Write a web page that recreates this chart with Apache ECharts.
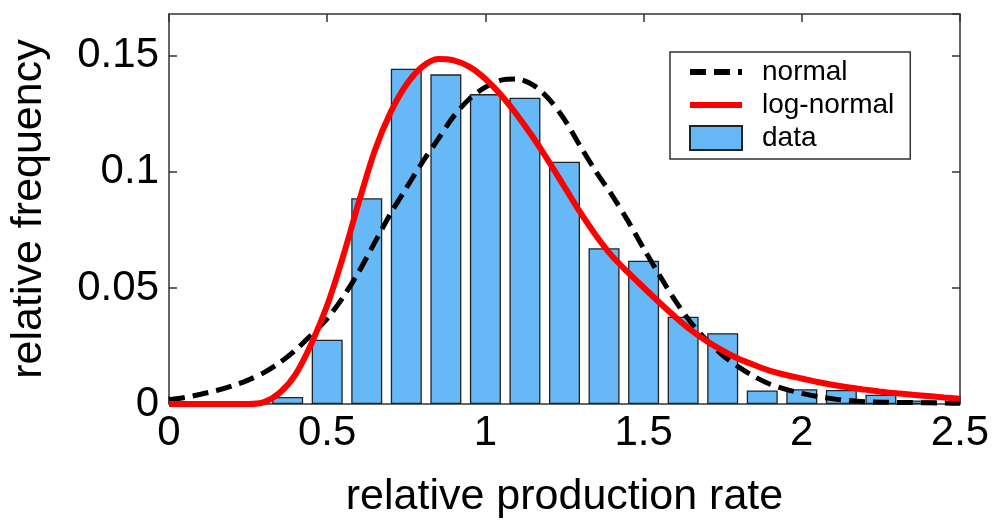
<!DOCTYPE html>
<html>
<head>
<meta charset="utf-8">
<script src="https://cdn.jsdelivr.net/npm/echarts@6/dist/echarts.min.js"></script>
<style>
    html, body { margin: 0; padding: 0; background: #fff; }
    #chart { width: 998px; height: 524px; }
</style>
</head>
<body>
<div id="chart"></div>
<script>
// histogram bins (centre of bin) and their relative frequency
var binCenters = [0.375, 0.5, 0.625, 0.75, 0.875, 1.0, 1.125, 1.25, 1.375, 1.5,
    1.625, 1.75, 1.875, 2.0, 2.125, 2.25, 2.375];
var binFreq = [0.003, 0.0277, 0.0886, 0.1444, 0.142, 0.1335, 0.1319, 0.1044, 0.0671, 0.0617,
    0.0376, 0.0305, 0.0058, 0.0064, 0.006, 0.004, 0.0015];

// fitted curves
var curveX = [0, 0.05, 0.1, 0.15, 0.2, 0.25, 0.3, 0.35, 0.4, 0.45,
    0.5, 0.55, 0.6, 0.65, 0.7, 0.75, 0.8, 0.85, 0.9, 0.95,
    1.0, 1.05, 1.1, 1.15, 1.2, 1.25, 1.3, 1.35, 1.4, 1.45,
    1.5, 1.55, 1.6, 1.65, 1.7, 1.75, 1.8, 1.85, 1.9, 1.95,
    2.0, 2.05, 2.1, 2.15, 2.2, 2.25, 2.3, 2.35, 2.4, 2.45, 2.5];
var normalY = [0.0018, 0.0028, 0.0042, 0.0058, 0.0078, 0.0103, 0.0135, 0.0178, 0.0232, 0.0298,
    0.0368, 0.046, 0.057, 0.0695, 0.082, 0.093, 0.104, 0.114, 0.124, 0.1315,
    0.1365, 0.1395, 0.14, 0.1375, 0.1315, 0.1225, 0.111, 0.1, 0.09, 0.079,
    0.067, 0.0555, 0.0445, 0.035, 0.0274, 0.021, 0.016, 0.0118, 0.0085, 0.0063,
    0.0046, 0.0032, 0.0022, 0.0015, 0.001, 0.0008, 0.0007, 0.0006, 0.0005, 0.0004, 0.0003];
var logNormalY = [0, 0, 0, 0, 0, 0, 0.0008, 0.0048, 0.0128, 0.026,
    0.0425, 0.0635, 0.087, 0.109, 0.1255, 0.1375, 0.1452, 0.1486, 0.148, 0.1452,
    0.14, 0.133, 0.1245, 0.115, 0.1045, 0.0935, 0.0825, 0.0725, 0.0638, 0.0568,
    0.0502, 0.0437, 0.0375, 0.0318, 0.027, 0.023, 0.0195, 0.0168, 0.0143, 0.0125,
    0.011, 0.0095, 0.0082, 0.0071, 0.0062, 0.0053, 0.0046, 0.004, 0.0034, 0.0028, 0.0023];

var xTicks = ['0', '0.5', '1', '1.5', '2', '2.5'];

function pairs(xs, ys){
    var out = [];
    for(var i = 0; i < xs.length; i++){
        out.push([xs[i], ys[i]]);
    }
    return out;
}

var font = '"Liberation Sans", Arial, sans-serif';
var frame = '#333';
var dash = [16, 8];

function frameAxis(extra){
    var ax = {
        type: 'value',
        splitLine: { show: false },
        axisLine: { show: true, onZero: false, lineStyle: { color: frame, width: 1.5 } },
        axisTick: { show: true, inside: true, length: 8, lineStyle: { color: frame, width: 1.5 } },
        axisLabel: { show: false }
    };
    for(var k in extra){
        ax[k] = extra[k];
    }
    return ax;
}

var myChart = echarts.init(document.getElementById('chart'));
var option = {
    animation: false,
    backgroundColor: '#fff',
    textStyle: { fontFamily: font },
    grid: {
        left: 167,
        right: 38,
        top: 14,
        bottom: 113
    },
    legend: {
        orient: 'vertical',
        left: 670,
        top: 52,
        itemWidth: 52,
        itemHeight: 24,
        itemGap: 5,
        padding: [6, 16, 7, 17],
        borderColor: frame,
        borderWidth: 1.5,
        backgroundColor: '#fff',
        textStyle: {
            fontSize: 28,
            color: '#000',
            fontFamily: font,
            padding: [0, 0, 0, 15]
        },
        data: [
            { name: 'normal', itemStyle: { opacity: 0 }, lineStyle: { width: 6, type: dash, color: '#000' } },
            { name: 'log-normal', itemStyle: { opacity: 0 }, lineStyle: { width: 6, color: '#ff0000' } },
            { name: 'data', icon: 'rect' }
        ]
    },
    xAxis: [
        frameAxis({
            min: 0,
            max: 2.5,
            interval: 0.5,
            name: 'relative production rate',
            nameLocation: 'middle',
            nameGap: 72,
            nameTextStyle: { fontSize: 43, color: '#000', fontFamily: font },
            axisLabel: {
                fontSize: 42,
                color: '#000',
                margin: 8,
                formatter: function (v) {
                    return xTicks[Math.round(v / 0.5)];
                }
            }
        }),
        frameAxis({ position: 'top', min: 0, max: 2.5, interval: 0.5 })
    ],
    yAxis: [
        frameAxis({
            min: 0,
            max: 0.168,
            interval: 0.05,
            name: 'relative frequency',
            nameLocation: 'middle',
            nameGap: 118,
            nameTextStyle: { fontSize: 43, color: '#000', fontFamily: font },
            axisLabel: {
                fontSize: 42,
                color: '#000',
                margin: 10,
                showMaxLabel: false
            }
        }),
        frameAxis({ position: 'right', min: 0, max: 0.168, interval: 0.05 })
    ],
    series: [
        {
            name: 'data',
            type: 'bar',
            barWidth: 31,
            itemStyle: {
                color: '#66b8f6',
                borderColor: '#222',
                borderWidth: 1.3
            },
            data: pairs(binCenters, binFreq)
        },
        {
            name: 'normal',
            type: 'line',
            symbol: 'none',
            smooth: 0.3,
            lineStyle: { color: '#000', width: 5, type: dash },
            itemStyle: { color: '#000' },
            data: pairs(curveX, normalY)
        },
        {
            name: 'log-normal',
            type: 'line',
            symbol: 'none',
            smooth: 0.3,
            lineStyle: { color: '#ff0000', width: 6 },
            itemStyle: { color: '#ff0000' },
            data: pairs(curveX, logNormalY)
        }
    ]
};
myChart.setOption(option);
</script>
</body>
</html>
